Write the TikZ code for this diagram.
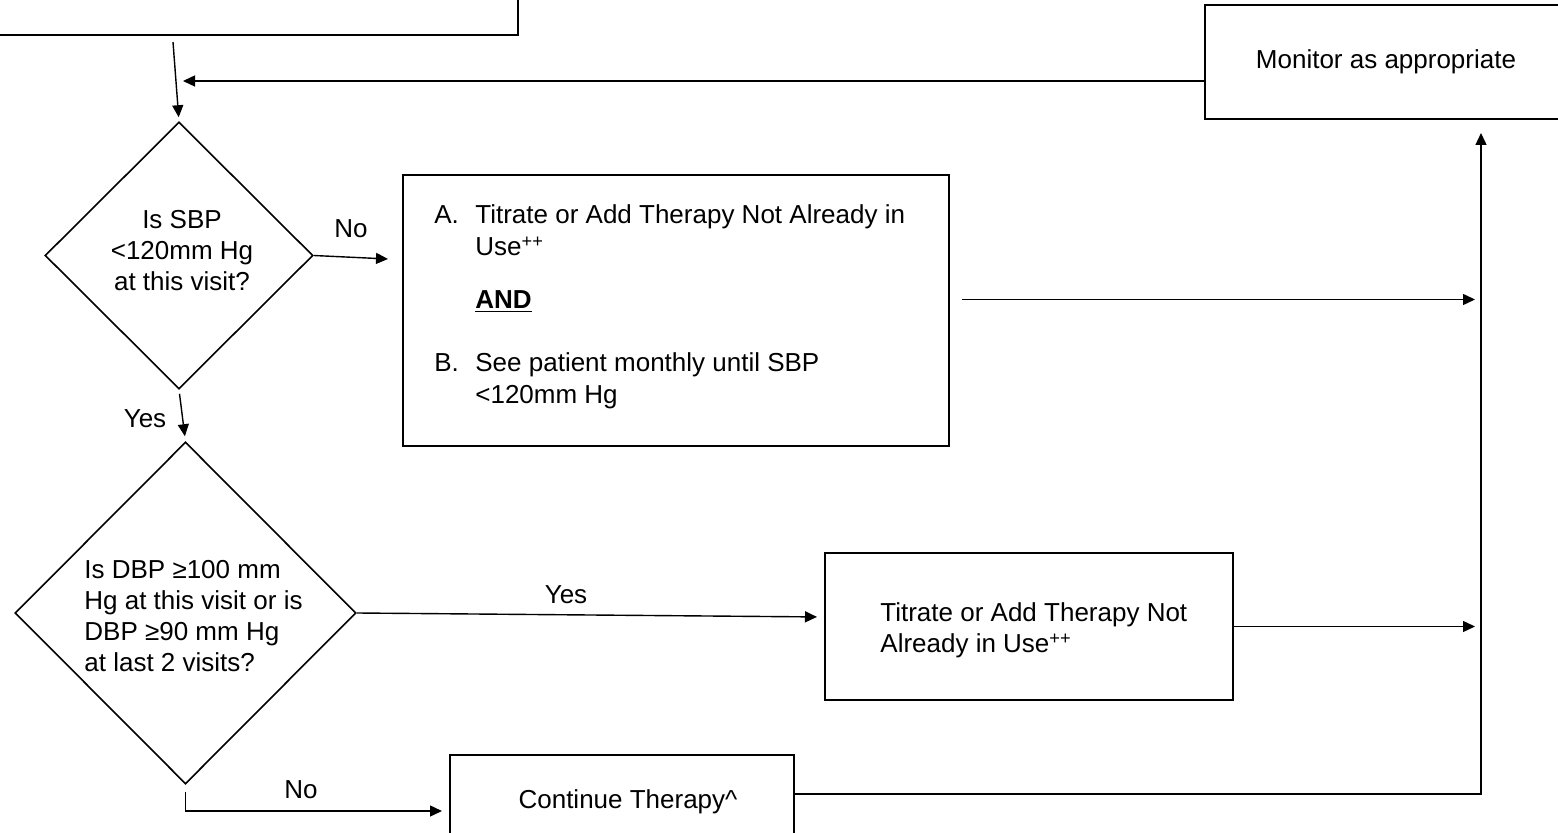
\documentclass[tikz,border=0pt]{standalone}
\usepackage{fontspec}
\setmainfont{Liberation Sans}
\usetikzlibrary{shapes.geometric,arrows.meta}
\newcommand{\diafont}{\fontsize{13pt}{15.5pt}\selectfont}
\newcommand{\boxAfont}{\fontsize{13pt}{16pt}\selectfont}
\tikzset{
  box/.style={draw, line width=1pt, inner sep=0pt, font=\diafont, align=center},
  dec/.style={draw, diamond, inner sep=0pt, line width=0.8pt},
  arr/.style={line width=0.7pt, -{Triangle[length=6pt,width=5.5pt]}},
  plain/.style={line width=0.7pt},
  lbl/.style={inner sep=0pt, font=\diafont},
}
\begin{document}
\begin{tikzpicture}[x=0.5pt,y=-0.5pt]
\useasboundingbox (0,0) rectangle (1558,833);
\clip (0,0) rectangle (1558,833);
% boxes
\node[box, minimum width=264pt, minimum height=22.5pt] (top) at (254,12.5) {};
\node[box, minimum width=181pt, minimum height=57pt] (mon) at (1386,62) {Monitor as appropriate};
\node[box, minimum width=273pt, minimum height=135.5pt] (boxA) at (676,310.5) {};
\node[box, minimum width=204pt, minimum height=73.5pt] (tit) at (1029,626.5) {};
\node[box, minimum width=172pt, minimum height=47pt] (cont) at (622,802) {};
% diamonds
\node[dec, minimum width=134pt, minimum height=133.5pt] (d1) at (179,255.5) {};
\node[dec, minimum width=170.5pt, minimum height=171pt] (d2) at (185.5,613) {};
% texts
\node[lbl, anchor=base] (d1txt) at (182,229) {\begin{tabular}[t]{@{}c@{}}Is SBP\\ <120mm Hg\\ at this visit?\end{tabular}};
\node[lbl, anchor=base west] (d2txt) at (84,579) {\begin{tabular}[t]{@{}l@{}}Is DBP ≥100 mm\\ Hg at this visit or is\\ DBP ≥90 mm Hg\\ at last 2 visits?\end{tabular}};
\node[lbl, anchor=base west, font=\boxAfont] (boxAtxt) at (434,224) {\begin{tabular}[t]{@{}p{20.5pt}@{}l@{}}A. & Titrate or Add Therapy Not Already in\\ & Use\textsuperscript{++}\\[10.5pt] & \textbf{\underline{AND}}\\[15.5pt] B. & See patient monthly until SBP\\ & <120mm Hg\end{tabular}};
\node[lbl, anchor=base west] (tittxt) at (880,622) {\begin{tabular}[t]{@{}l@{}}Titrate or Add Therapy Not\\ Already in Use\textsuperscript{++}\end{tabular}};
\node[lbl] (conttxt) at (628,802) {Continue Therapy\^{}};
% labels
\node[lbl] (no1) at (351,229) {No};
\node[lbl] (yes1) at (145,419) {Yes};
\node[lbl] (yes2) at (566,595) {Yes};
\node[lbl] (no2) at (301,790) {No};
% coordinates
\coordinate (t0) at (173,42);
\coordinate (ret) at (183,81);
\coordinate (noA) at (388,259);
\coordinate (rv) at (1481,794);
% connectors
\draw[arr, shorten >=2pt] (t0) -- (d1.north);
\draw[arr] ([yshift=-9.5pt]mon.west) -- (ret);
\draw[arr] (d1.east) -- (noA);
\draw[arr, shorten <=2pt, shorten >=2.5pt] (d1.south) -- (d2.north);
\draw[arr, shorten >=3.5pt] (d2.east) -- ([yshift=4.75pt]tit.west);
\draw[arr, shorten <=3.5pt, shorten >=3.5pt] (d2.south) |- ([yshift=-4.5pt]cont.west);
\draw[arr, shorten <=6pt, shorten >=3pt] ([yshift=5.5pt]boxA.east) -- ([yshift=5.5pt]boxA.east -| rv);
\draw[arr, shorten >=3pt] (tit.east) -- (tit.east -| rv);
\draw[arr, shorten >=6.5pt] ([yshift=4pt]cont.east) -- (rv) -- (mon.south -| rv);
\end{tikzpicture}
\end{document}
